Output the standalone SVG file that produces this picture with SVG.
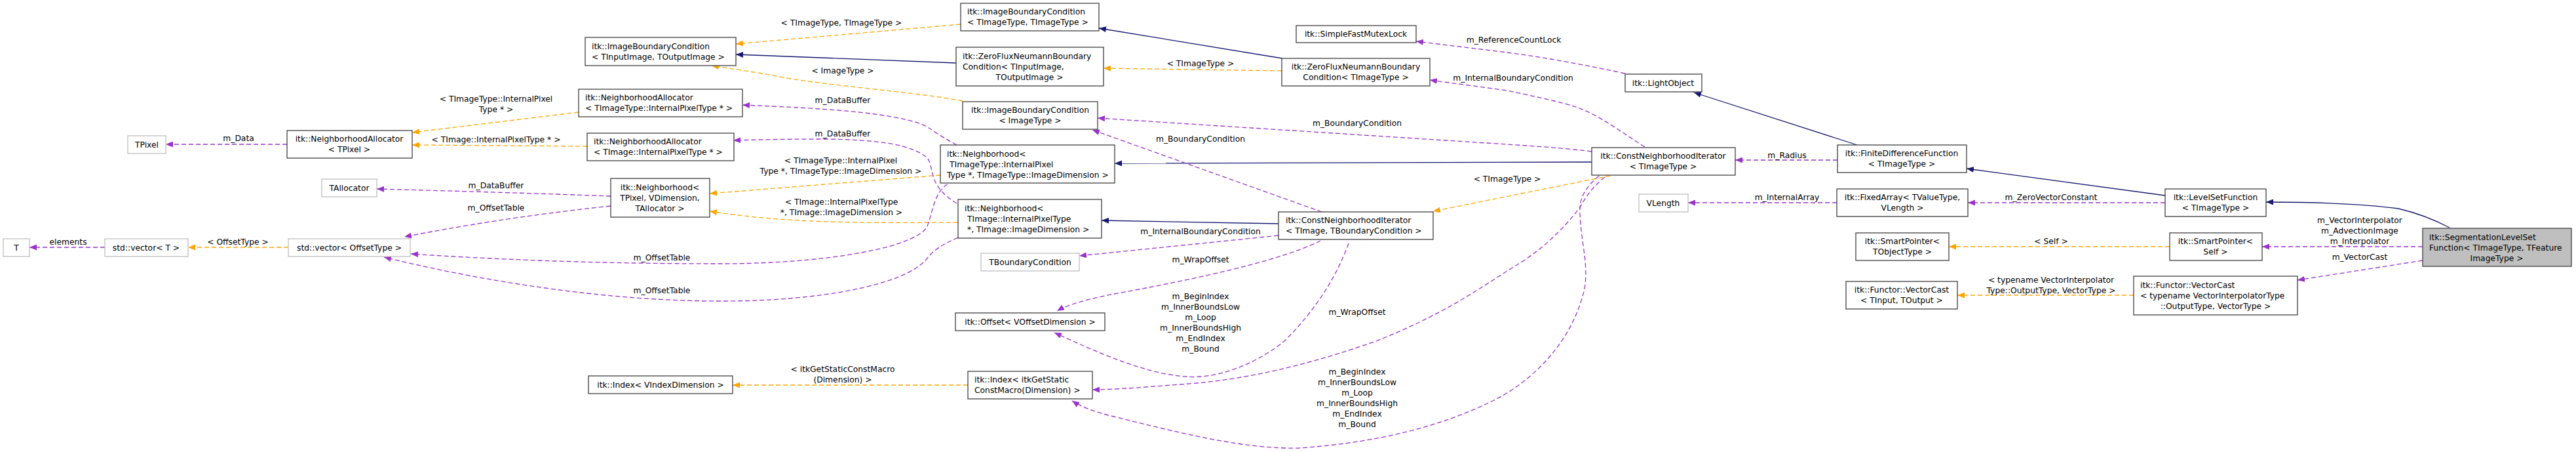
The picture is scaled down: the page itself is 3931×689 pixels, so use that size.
<svg xmlns="http://www.w3.org/2000/svg" width="3931" height="689" viewBox="0 0 3931 689">
<style>
text{font-family:"DejaVu Sans",sans-serif;font-size:12.3px;fill:#000}
.m{text-anchor:middle}
.n{fill:#fff;stroke:#404040;stroke-width:1.3}
.g{fill:#fff;stroke:#bfbfbf;stroke-width:1.3}
.h{fill:#bfbfbf;stroke:#404040;stroke-width:1.3}
.p{fill:none;stroke:#9a32cd;stroke-width:1.3;stroke-dasharray:7,4}
.o{fill:none;stroke:#ffa500;stroke-width:1.3;stroke-dasharray:7,4}
.b{fill:none;stroke:#191970;stroke-width:1.3}
</style>
<defs>
<marker id="ap" markerUnits="userSpaceOnUse" markerWidth="12" markerHeight="9" refX="11" refY="4.5" orient="auto"><path d="M0,0L11,4.5L0,9z" fill="#9a32cd"/></marker>
<marker id="ao" markerUnits="userSpaceOnUse" markerWidth="12" markerHeight="9" refX="11" refY="4.5" orient="auto"><path d="M0,0L11,4.5L0,9z" fill="#ffa500"/></marker>
<marker id="ab" markerUnits="userSpaceOnUse" markerWidth="12" markerHeight="9" refX="11" refY="4.5" orient="auto"><path d="M0,0L11,4.5L0,9z" fill="#191970"/></marker>
</defs>
<rect width="3931" height="689" fill="#fff"/>
<g id="connectors">
<path class="b" marker-end="url(#ab)" d="M3738,347 C3715,335 3690,325 3660,318 C3600,310 3520,308 3458,308"/>
<path class="b" marker-end="url(#ab)" d="M3304,298 L3001,257"/>
<path class="b" marker-end="url(#ab)" d="M2834,221 L2585,141"/>
<path class="b" marker-end="url(#ab)" d="M2429,247 L1701,249"/>
<path class="b" marker-end="url(#ab)" d="M1951,341 L1681,336"/>
<path class="b" marker-end="url(#ab)" d="M1957,89 L1677,43"/>
<path class="b" marker-end="url(#ab)" d="M1459,96 L1123,83"/>
<path class="o" marker-end="url(#ao)" d="M1466,37 L1123,67"/>
<path class="o" marker-end="url(#ao)" d="M1469,154 C1400,140 1250,130 1180,115 C1140,108 1110,104 1086,100"/>
<path class="o" marker-end="url(#ao)" d="M1956,108 L1684,104"/>
<path class="o" marker-end="url(#ao)" d="M883,171 L629,202"/>
<path class="o" marker-end="url(#ao)" d="M896,223 L629,221"/>
<path class="o" marker-end="url(#ao)" d="M1435,267 L1083,295"/>
<path class="o" marker-end="url(#ao)" d="M1462,339 C1300,340 1200,340 1083,322"/>
<path class="o" marker-end="url(#ao)" d="M2457,268 L2187,322"/>
<path class="o" marker-end="url(#ao)" d="M1477,587 L1118,587"/>
<path class="o" marker-end="url(#ao)" d="M3256,450 L2987,450"/>
<path class="o" marker-end="url(#ao)" d="M3311,376 L2974,376"/>
<path class="o" marker-end="url(#ao)" d="M440,377 L287,377"/>
<path class="p" marker-end="url(#ap)" d="M438,220 L253,220"/>
<path class="p" marker-end="url(#ap)" d="M160,377 L45,377"/>
<path class="p" marker-end="url(#ap)" d="M932,299 C800,294 650,290 575,288"/>
<path class="p" marker-end="url(#ap)" d="M932,314 C800,328 700,345 617,361"/>
<path class="p" marker-end="url(#ap)" d="M1446,281 C1425,292 1422,330 1414,347 C1390,380 1250,402 1100,402 C900,402 750,395 627,387"/>
<path class="p" marker-end="url(#ap)" d="M1462,362 C1440,372 1425,380 1414,395 C1380,435 1250,459 1100,459 C900,459 700,420 586,392"/>
<path class="p" marker-end="url(#ap)" d="M1460,221 C1430,205 1420,195 1406,189 C1350,170 1250,165 1133,160"/>
<path class="p" marker-end="url(#ap)" d="M1460,310 C1440,298 1430,285 1425,272 C1420,255 1420,245 1414,240 C1390,220 1340,213 1260,212 C1200,212 1150,213 1119,214"/>
<path class="p" marker-end="url(#ap)" d="M2429,231 C2380,225 2330,222 2300,220 L1675,180"/>
<path class="p" marker-end="url(#ap)" d="M2017,323 L1667,198"/>
<path class="p" marker-end="url(#ap)" d="M2510,224 C2480,205 2460,190 2434,176 C2410,162 2380,155 2300,138 L2182,122"/>
<path class="p" marker-end="url(#ap)" d="M2480,112 C2400,95 2340,85 2300,80 L2161,63"/>
<path class="p" marker-end="url(#ap)" d="M2804,244 L2648,244"/>
<path class="p" marker-end="url(#ap)" d="M2803,309 L2576,309"/>
<path class="p" marker-end="url(#ap)" d="M3304,309 L3003,309"/>
<path class="p" marker-end="url(#ap)" d="M3697,376 L3452,376"/>
<path class="p" marker-end="url(#ap)" d="M3697,397 L3506,427"/>
<path class="p" marker-end="url(#ap)" d="M1951,359 L1647,390"/>
<path class="p" marker-end="url(#ap)" d="M2015,367 C1950,400 1800,430 1700,448 C1660,456 1630,464 1613,474"/>
<path class="p" marker-end="url(#ap)" d="M2058,371 C2040,420 2010,470 1960,520 C1910,560 1850,578 1810,574 C1750,570 1680,540 1609,507"/>
<path class="p" marker-end="url(#ap)" d="M2449,270 C2430,285 2420,300 2411,316 C2370,370 2330,395 2300,413 C2250,445 2200,480 2100,520 C2000,555 1900,580 1800,586 C1750,590 1700,594 1667,594"/>
<path class="p" marker-end="url(#ap)" d="M2440,268 C2420,285 2412,300 2411,316 C2410,360 2425,400 2418,440 C2400,520 2340,580 2280,610 C2200,650 2100,675 1982,683 C1900,685 1800,660 1700,635 C1670,628 1650,620 1636,611"/>
<text class="m" x="364" y="215">m_Data</text>
<text class="m" x="104" y="373">elements</text>
<text class="m" x="363" y="373">&lt; OffsetType &gt;</text>
<text class="m" x="757" y="155">&lt; TImageType::InternalPixel</text>
<text class="m" x="757" y="171">Type * &gt;</text>
<text class="m" x="757" y="217">&lt; TImage::InternalPixelType * &gt;</text>
<text class="m" x="757" y="287">m_DataBuffer</text>
<text class="m" x="757" y="321">m_OffsetTable</text>
<text class="m" x="1010" y="397">m_OffsetTable</text>
<text class="m" x="1010" y="447">m_OffsetTable</text>
<text class="m" x="1284" y="39">&lt; TImageType, TImageType &gt;</text>
<text class="m" x="1286" y="112">&lt; ImageType &gt;</text>
<text class="m" x="1286" y="157">m_DataBuffer</text>
<text class="m" x="1286" y="208">m_DataBuffer</text>
<text class="m" x="1283" y="249">&lt; TImageType::InternalPixel</text>
<text class="m" x="1283" y="265">Type *, TImageType::ImageDimension &gt;</text>
<text class="m" x="1284" y="312">&lt; TImage::InternalPixelType</text>
<text class="m" x="1284" y="328">*, TImage::ImageDimension &gt;</text>
<text class="m" x="1286" y="567">&lt; itkGetStaticConstMacro</text>
<text class="m" x="1286" y="583">(Dimension) &gt;</text>
<text class="m" x="2310" y="65">m_ReferenceCountLock</text>
<text class="m" x="2309" y="123">m_InternalBoundaryCondition</text>
<text class="m" x="1832" y="101">&lt; TImageType &gt;</text>
<text class="m" x="2071" y="192">m_BoundaryCondition</text>
<text class="m" x="1832" y="216">m_BoundaryCondition</text>
<text class="m" x="2300" y="277">&lt; TImageType &gt;</text>
<text class="m" x="1832" y="357">m_InternalBoundaryCondition</text>
<text class="m" x="1832" y="400">m_WrapOffset</text>
<text class="m" x="1832" y="456">m_BeginIndex</text>
<text class="m" x="1832" y="472">m_InnerBoundsLow</text>
<text class="m" x="1832" y="488">m_Loop</text>
<text class="m" x="1832" y="504">m_InnerBoundsHigh</text>
<text class="m" x="1832" y="520">m_EndIndex</text>
<text class="m" x="1832" y="536">m_Bound</text>
<text class="m" x="2071" y="480">m_WrapOffset</text>
<text class="m" x="2071" y="571">m_BeginIndex</text>
<text class="m" x="2071" y="587">m_InnerBoundsLow</text>
<text class="m" x="2071" y="603">m_Loop</text>
<text class="m" x="2071" y="619">m_InnerBoundsHigh</text>
<text class="m" x="2071" y="635">m_EndIndex</text>
<text class="m" x="2071" y="651">m_Bound</text>
<text class="m" x="2727" y="241">m_Radius</text>
<text class="m" x="2727" y="305">m_InternalArray</text>
<text class="m" x="3130" y="305">m_ZeroVectorConstant</text>
<text class="m" x="3130" y="372">&lt; Self &gt;</text>
<text class="m" x="3130" y="431">&lt; typename VectorInterpolator</text>
<text class="m" x="3130" y="447">Type::OutputType, VectorType &gt;</text>
<text class="m" x="3601" y="340">m_VectorInterpolator</text>
<text class="m" x="3601" y="356">m_AdvectionImage</text>
<text class="m" x="3601" y="372">m_Interpolator</text>
<text class="m" x="3601" y="396">m_VectorCast</text>
</g>
<g id="TPixel"><rect class="g" x="195" y="207" width="58" height="27"/><text class="m" x="224" y="225">TPixel</text></g>
<g id="NA_TPixel"><rect class="n" x="438" y="199" width="191" height="42"/><text class="m" x="533" y="216">itk::NeighborhoodAllocator</text><text class="m" x="533" y="232">&lt; TPixel &gt;</text></g>
<g id="TAllocator"><rect class="g" x="491" y="273" width="84" height="27"/><text class="m" x="533" y="291">TAllocator</text></g>
<g id="T"><rect class="g" x="5" y="364" width="40" height="27"/><text class="m" x="25" y="382">T</text></g>
<g id="vecT"><rect class="g" x="160" y="364" width="127" height="27"/><text class="m" x="223" y="382">std::vector&lt; T &gt;</text></g>
<g id="vecOff"><rect class="g" x="440" y="364" width="186" height="27"/><text class="m" x="533" y="382">std::vector&lt; OffsetType &gt;</text></g>
<g id="IBC_IO"><rect class="n" x="893" y="57" width="230" height="43"/><text x="903" y="75">itk::ImageBoundaryCondition</text><text x="903" y="91">&lt; TInputImage, TOutputImage &gt;</text></g>
<g id="NA_TT"><rect class="n" x="883" y="136" width="250" height="42"/><text x="893" y="153">itk::NeighborhoodAllocator</text><text x="893" y="169">&lt; TImageType::InternalPixelType * &gt;</text></g>
<g id="NA_TI"><rect class="n" x="896" y="203" width="224" height="42"/><text x="906" y="220">itk::NeighborhoodAllocator</text><text x="906" y="236">&lt; TImage::InternalPixelType * &gt;</text></g>
<g id="NbhPixel"><rect class="n" x="932" y="272" width="151" height="59"/><text class="m" x="1007" y="290">itk::Neighborhood&lt;</text><text class="m" x="1007" y="306">TPixel, VDimension,</text><text class="m" x="1007" y="322">TAllocator &gt;</text></g>
<g id="IndexV"><rect class="n" x="898" y="573" width="220" height="27"/><text class="m" x="1008" y="591">itk::Index&lt; VIndexDimension &gt;</text></g>
<g id="IBC_TT"><rect class="n" x="1466" y="5" width="211" height="42"/><text x="1476" y="22">itk::ImageBoundaryCondition</text><text x="1476" y="38">&lt; TImageType, TImageType &gt;</text></g>
<g id="ZF_IO"><rect class="n" x="1459" y="72" width="225" height="59"/><text x="1469" y="90">itk::ZeroFluxNeumannBoundary</text><text x="1469" y="106">Condition&lt; TInputImage,</text><text class="m" x="1571" y="122">TOutputImage &gt;</text></g>
<g id="IBC_Img"><rect class="n" x="1469" y="155" width="206" height="42"/><text class="m" x="1572" y="172">itk::ImageBoundaryCondition</text><text class="m" x="1572" y="188">&lt; ImageType &gt;</text></g>
<g id="Nbh_TT"><rect class="n" x="1435" y="221" width="266" height="58"/><text x="1445" y="239">itk::Neighborhood&lt;</text><text x="1449" y="255">TImageType::InternalPixel</text><text x="1445" y="271">Type *, TImageType::ImageDimension &gt;</text></g>
<g id="Nbh_TI"><rect class="n" x="1462" y="304" width="219" height="59"/><text x="1472" y="322">itk::Neighborhood&lt;</text><text x="1476" y="338">TImage::InternalPixelType</text><text x="1476" y="354">*, TImage::ImageDimension &gt;</text></g>
<g id="TBC"><rect class="g" x="1497" y="386" width="150" height="27"/><text class="m" x="1572" y="404">TBoundaryCondition</text></g>
<g id="Offset"><rect class="n" x="1458" y="477" width="228" height="27"/><text class="m" x="1572" y="495">itk::Offset&lt; VOffsetDimension &gt;</text></g>
<g id="IndexMacro"><rect class="n" x="1477" y="566" width="190" height="42"/><text x="1487" y="583">itk::Index&lt; itkGetStatic</text><text x="1487" y="599">ConstMacro(Dimension) &gt;</text></g>
<g id="Mutex"><rect class="n" x="1978" y="39" width="183" height="26"/><text class="m" x="2069" y="56">itk::SimpleFastMutexLock</text></g>
<g id="ZF_T"><rect class="n" x="1956" y="89" width="226" height="42"/><text class="m" x="2069" y="106">itk::ZeroFluxNeumannBoundary</text><text class="m" x="2069" y="122">Condition&lt; TImageType &gt;</text></g>
<g id="CNI_TB"><rect class="n" x="1951" y="323" width="236" height="42"/><text x="1962" y="340">itk::ConstNeighborhoodIterator</text><text x="1962" y="356">&lt; TImage, TBoundaryCondition &gt;</text></g>
<g id="LightObject"><rect class="n" x="2480" y="113" width="117" height="27"/><text class="m" x="2538" y="131">itk::LightObject</text></g>
<g id="CNI_T"><rect class="n" x="2429" y="225" width="219" height="42"/><text class="m" x="2538" y="242">itk::ConstNeighborhoodIterator</text><text class="m" x="2538" y="258">&lt; TImageType &gt;</text></g>
<g id="VLength"><rect class="g" x="2501" y="296" width="75" height="27"/><text class="m" x="2538" y="314">VLength</text></g>
<g id="FDF"><rect class="n" x="2804" y="221" width="197" height="42"/><text class="m" x="2902" y="238">itk::FiniteDifferenceFunction</text><text class="m" x="2902" y="254">&lt; TImageType &gt;</text></g>
<g id="FixedArray"><rect class="n" x="2803" y="288" width="200" height="42"/><text class="m" x="2903" y="305">itk::FixedArray&lt; TValueType,</text><text class="m" x="2903" y="321">VLength &gt;</text></g>
<g id="SP_T"><rect class="n" x="2832" y="355" width="142" height="42"/><text class="m" x="2903" y="372">itk::SmartPointer&lt;</text><text class="m" x="2903" y="388">TObjectType &gt;</text></g>
<g id="VC_IO"><rect class="n" x="2817" y="429" width="170" height="42"/><text class="m" x="2902" y="446">itk::Functor::VectorCast</text><text class="m" x="2902" y="462">&lt; TInput, TOutput &gt;</text></g>
<g id="LSF"><rect class="n" x="3304" y="288" width="154" height="42"/><text class="m" x="3381" y="305">itk::LevelSetFunction</text><text class="m" x="3381" y="321">&lt; TImageType &gt;</text></g>
<g id="SP_Self"><rect class="n" x="3311" y="355" width="141" height="42"/><text class="m" x="3381" y="372">itk::SmartPointer&lt;</text><text class="m" x="3381" y="388">Self &gt;</text></g>
<g id="VC_typ"><rect class="n" x="3256" y="421" width="250" height="59"/><text x="3266" y="439">itk::Functor::VectorCast</text><text x="3266" y="455">&lt; typename VectorInterpolatorType</text><text class="m" x="3381" y="471">::OutputType, VectorType &gt;</text></g>
<g id="SegLSF"><rect class="h" x="3697" y="348" width="227" height="58"/><text x="3707" y="366">itk::SegmentationLevelSet</text><text x="3707" y="382">Function&lt; TImageType, TFeature</text><text class="m" x="3810" y="398">ImageType &gt;</text></g>
</svg>
